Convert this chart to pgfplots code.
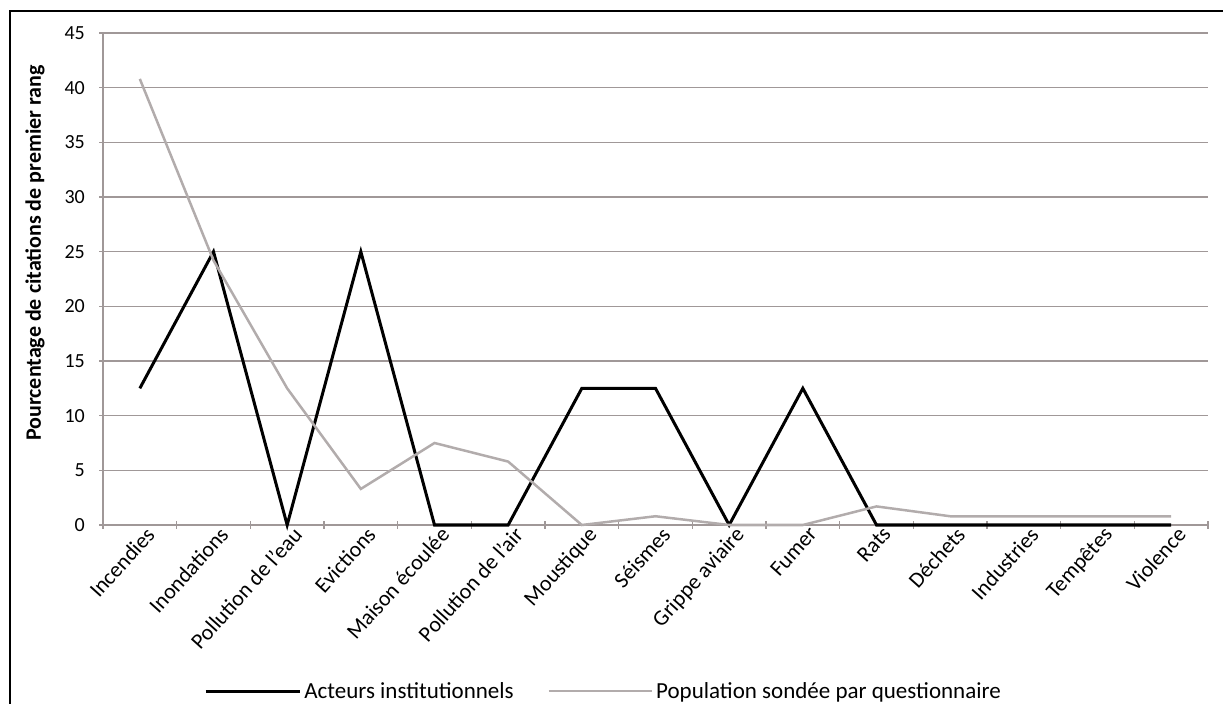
\documentclass[border=0pt]{standalone}
\usepackage{pgfplots}
\pgfplotsset{compat=1.18}
\usepackage{pgfplotstable}
\usepackage{fontspec}
\setmainfont{Carlito}
\definecolor{gridc}{RGB}{160,152,152}
\definecolor{grayser}{RGB}{178,172,172}
\pgfplotsset{
  legblack/.style={legend image code/.code={\path (0bp,0bp) -- (94bp,0bp); \draw[##1] (0bp,0bp) -- (89bp,0bp);}},
  leggray/.style={legend image code/.code={\path (0bp,0bp) -- (103bp,0bp); \draw[##1] (0bp,0bp) -- (100bp,0bp);}},
}
\pgfplotstableread{
x acteurs population
0 12.5 40.8
1 25 24.2
2 0 12.5
3 25 3.3
4 0 7.5
5 0 5.8
6 12.5 0
7 12.5 0.8
8 0 0
9 12.5 0
10 0 1.7
11 0 0.8
12 0 0.8
13 0 0.8
14 0 0.8
}\datatable
\begin{document}
\begin{tikzpicture}
\useasboundingbox (0,0) rectangle (1223bp,704bp);
\draw[line width=2bp] (10bp,-2bp) -- (10bp,693bp) -- (1225bp,693bp);
\begin{axis}[
  at={(103bp,179bp)}, anchor=south west,
  scale only axis, width=1105bp, height=492bp,
  xmin=-0.5, xmax=14.5, ymin=0, ymax=45,
  ytick={0,5,...,45},
  xtick={0,...,14},
  xticklabels={Incendies,Inondations,Pollution de l'eau,Evictions,Maison écoulée,Pollution de l'air,Moustique,Séismes,Grippe aviaire,Fumer,Rats,Déchets,Industries,Tempêtes,Violence},
  minor xtick={-0.5,0.5,...,14.5},
  xtick style={draw=none},
  minor tick length=7bp, major tick length=8bp,
  tick align=outside,
  axis x line=bottom, axis y line=left,
  axis line style={draw=gridc, line width=1.5bp, -},
  y tick style={draw=gridc, line width=1.5bp},
  minor x tick style={draw=gridc, line width=1.5bp},
  ymajorgrids, grid style={draw=gridc, line width=1.5bp},
  /pgf/number format/assume math mode=true,
  yticklabel style={font=\fontsize{20bp}{24bp}\selectfont, anchor=east, inner sep=0pt, xshift=-14bp},
  xticklabel style={font=\fontsize{22bp}{26bp}\selectfont, rotate=48, anchor=north east, inner sep=0pt, xshift=6bp, yshift=-1bp},
  ylabel={Pourcentage de citations de premier rang},
  every axis y label/.style={at={(axis description cs:-0.0615,0.553)}, rotate=90, anchor=center, font=\bfseries\fontsize{22bp}{26bp}\selectfont},
  clip=false,
  legend columns=2,
  legend style={at={(axis description cs:0.0915,-0.3374)}, anchor=west, draw=none, fill=none, inner sep=0pt,
    font=\fontsize{23bp}{27bp}\selectfont,
    /tikz/every even column/.append style={column sep=31bp},
    nodes={inner sep=3bp}},
]
\addplot[black, line width=3bp, legblack] table[x=x, y=acteurs] {\datatable};
\addlegendentry{Acteurs institutionnels}
\addplot[grayser, line width=2.5bp, leggray] table[x=x, y=population] {\datatable};
\addlegendentry{Population sondée par questionnaire}
\end{axis}
\end{tikzpicture}
\end{document}
